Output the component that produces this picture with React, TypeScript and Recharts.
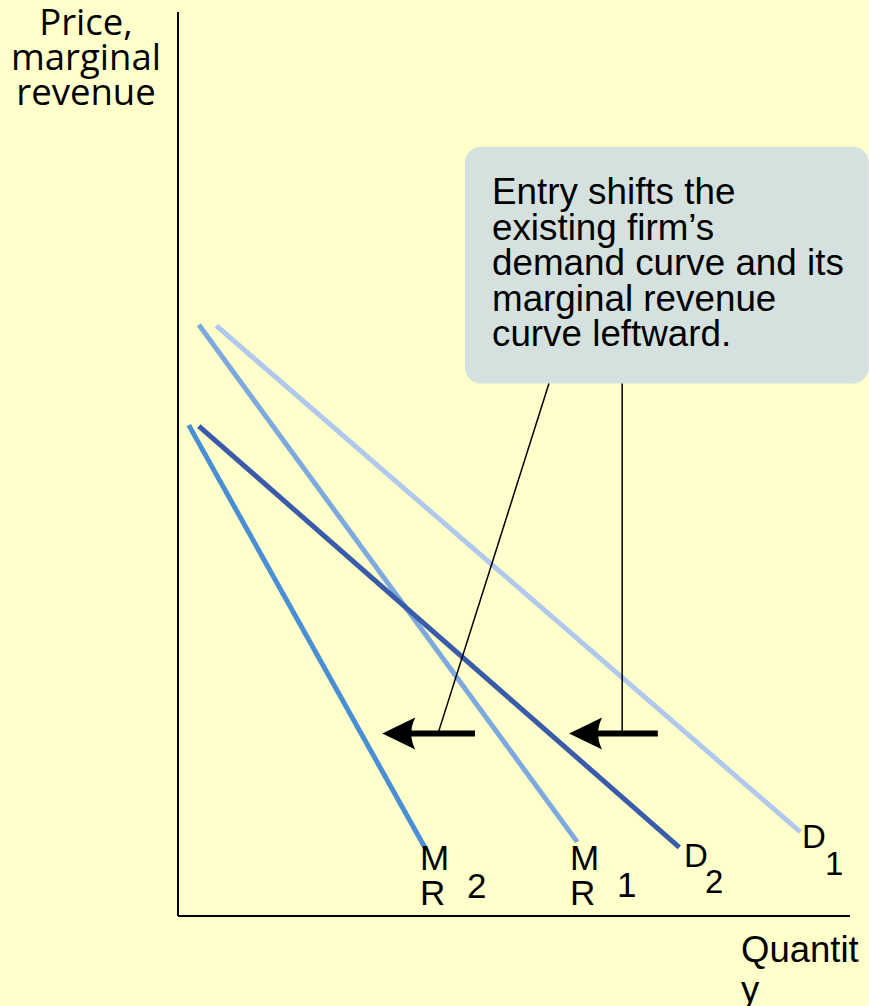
import { LineChart, Line, XAxis, YAxis, ReferenceArea, ReferenceLine, ReferenceDot } from 'recharts';

// quantity (x) and price (y) on a 0-100 scale
const d1 = [{ x: 5.7, y: 65.3 }, { x: 92.6, y: 9.3 }];
const mr1 = [{ x: 3.1, y: 65.4 }, { x: 59.4, y: 8.2 }];
const d2 = [{ x: 3.1, y: 54.2 }, { x: 74.6, y: 7.6 }];
const mr2 = [{ x: 1.6, y: 54.3 }, { x: 36.8, y: 7.5 }];

// arrows: shaft from "from" to the head at "to", all at level y
const arrows = [
  { from: 44.2, to: 34.0, tip: 30.4, y: 20.2 },
  { from: 71.4, to: 61.8, tip: 58.2, y: 20.2 },
];
// leader lines from the note box to the arrows
const leaders = [
  { x1: 55.2, y1: 58.9, x2: 38.7, y2: 20.2 },
  { x1: 66.1, y1: 58.9, x2: 66.1, y2: 20.2 },
];
const noteBox = { x1: 42.7, x2: 102.8, y1: 58.9, y2: 85.1 };

const W = 869;
const H = 1006;
const sans = '"Liberation Sans", Arial, sans-serif';

const ArrowHead = (props: any) => {
  const { cx, cy } = props;
  return (
    <path
      d={`M${cx},${cy} L${cx + 33},${cy - 16} Q${cx + 25},${cy} ${cx + 33},${cy + 16} Z`}
      fill="#000"
    />
  );
};

const txt = (left: number, top: number, size: number, s: string) => (
  <div style={{ position: 'absolute', left, top, fontSize: size, lineHeight: 1, fontFamily: sans, color: '#000', whiteSpace: 'nowrap' }}>{s}</div>
);

export default function App() {
  return (
    <div style={{ position: 'absolute', left: 0, top: 0, width: W, height: H, background: '#FFFFCC', overflow: 'hidden' }}>
      <LineChart width={W} height={H} margin={{ top: 12, right: 19, bottom: 60, left: 118 }}>
        <XAxis type="number" dataKey="x" domain={[0, 100]} height={30} tick={false} axisLine={{ stroke: '#000', strokeWidth: 2 }} tickLine={false} allowDataOverflow />
        <YAxis type="number" dataKey="y" domain={[0, 100]} width={60} tick={false} axisLine={{ stroke: '#000', strokeWidth: 2 }} tickLine={false} allowDataOverflow />
        <ReferenceArea x1={noteBox.x1} x2={noteBox.x2} y1={noteBox.y1} y2={noteBox.y2} ifOverflow="visible" fill="#D5E1DF" fillOpacity={1} radius={16} stroke="none" />
        <Line data={d1} dataKey="y" stroke="#AFC8EC" strokeWidth={5} dot={false} isAnimationActive={false} />
        <Line data={mr1} dataKey="y" stroke="#7EA9DE" strokeWidth={5} dot={false} isAnimationActive={false} />
        <Line data={d2} dataKey="y" stroke="#3A5BA9" strokeWidth={5} dot={false} isAnimationActive={false} />
        <Line data={mr2} dataKey="y" stroke="#4A8FD3" strokeWidth={5} dot={false} isAnimationActive={false} />
        {leaders.map((l, i) => (
          <ReferenceLine key={'l' + i} segment={[{ x: l.x1, y: l.y1 }, { x: l.x2, y: l.y2 }]} stroke="#000" strokeWidth={1.5} ifOverflow="visible" />
        ))}
        {arrows.map((a, i) => (
          <ReferenceLine key={'a' + i} segment={[{ x: a.from, y: a.y }, { x: a.to, y: a.y }]} stroke="#000" strokeWidth={6} ifOverflow="visible" />
        ))}
        {arrows.map((a, i) => (
          <ReferenceDot key={'h' + i} x={a.tip} y={a.y} r={1} shape={ArrowHead} ifOverflow="visible" />
        ))}
      </LineChart>

      <div style={{ position: 'absolute', left: 0, top: 4, width: 172, textAlign: 'center', fontFamily: '"Open Sans", sans-serif', fontSize: 36.5, lineHeight: '35px', color: '#000' }}>
        Price,<br />marginal<br />revenue
      </div>

      <div style={{ position: 'absolute', left: 492, top: 174, fontFamily: sans, fontSize: 36.8, lineHeight: '35.5px', color: '#000', whiteSpace: 'nowrap' }}>
        Entry shifts the<br />existing firm’s<br />demand curve and its<br />marginal revenue<br />curve leftward.
      </div>

      {txt(420, 840, 35, 'M')}
      {txt(420, 875, 35, 'R')}
      {txt(467, 868, 35, '2')}
      {txt(570, 840, 35, 'M')}
      {txt(570, 875, 35, 'R')}
      {txt(617, 867, 35, '1')}
      {txt(684, 839, 33, 'D')}
      {txt(705, 865, 33, '2')}
      {txt(802, 820, 33, 'D')}
      {txt(825, 847, 33, '1')}
      {txt(741, 932, 36.5, 'Quantit')}
      {txt(741, 972, 36.5, 'y')}
    </div>
  );
}
